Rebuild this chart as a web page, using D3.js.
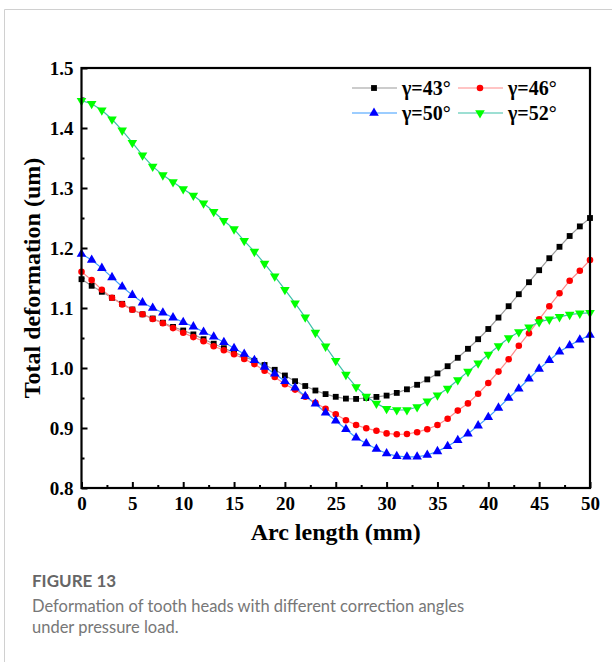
<!DOCTYPE html>
<html>
<head>
<meta charset="utf-8">
<script src="https://cdn.jsdelivr.net/npm/d3@7/dist/d3.min.js"></script>
<style>
  html, body { margin: 0; padding: 0; background: #fff; }
  svg { display: block; }
</style>
</head>
<body>
<script>
// ---------- data ----------
const arcLength = [0,1,2,3,4,5,6,7,8,9,10,11,12,13,14,15,16,17,18,19,20,21,22,23,24,25,26,27,28,29,30,31,32,33,34,35,36,37,38,39,40,41,42,43,44,45,46,47,48,49,50];
const gamma43 = [1.148,1.137,1.127,1.117,1.107,1.0975,1.0895,1.0825,1.0755,1.0685,1.0625,1.056,1.048,1.0405,1.033,1.026,1.019,1.012,1.005,0.997,0.9875,0.978,0.970,0.9625,0.9565,0.952,0.949,0.9485,0.950,0.9518,0.954,0.9585,0.9645,0.972,0.981,0.991,1.003,1.017,1.032,1.048,1.065,1.084,1.103,1.123,1.143,1.163,1.183,1.202,1.220,1.236,1.250];
const gamma46 = [1.1605,1.1465,1.1305,1.117,1.106,1.097,1.0895,1.0817,1.0745,1.0665,1.0588,1.0515,1.0445,1.0363,1.0297,1.0228,1.015,1.0065,0.9955,0.985,0.973,0.964,0.952,0.942,0.932,0.923,0.913,0.905,0.8995,0.8955,0.891,0.8895,0.890,0.893,0.898,0.905,0.9155,0.929,0.941,0.957,0.975,0.994,1.0145,1.037,1.058,1.081,1.103,1.1245,1.1455,1.162,1.18];
const gamma50 = [1.19,1.180,1.1665,1.151,1.1355,1.1215,1.109,1.1,1.092,1.084,1.0763,1.069,1.060,1.052,1.043,1.033,1.0233,1.013,1.0018,0.9905,0.978,0.967,0.953,0.9405,0.9255,0.912,0.898,0.8838,0.8742,0.865,0.8575,0.853,0.852,0.852,0.855,0.861,0.8695,0.8795,0.8905,0.904,0.918,0.9335,0.950,0.9655,0.982,0.9985,1.0128,1.027,1.0375,1.047,1.055];
const gamma52 = [1.4455,1.4405,1.4295,1.4145,1.396,1.3755,1.3545,1.336,1.3215,1.310,1.2985,1.2875,1.2745,1.2605,1.2455,1.2315,1.212,1.194,1.174,1.1528,1.1305,1.108,1.0845,1.059,1.036,1.012,0.989,0.9685,0.9525,0.941,0.932,0.930,0.930,0.935,0.9445,0.9545,0.966,0.980,0.994,1.008,1.0225,1.0368,1.050,1.060,1.068,1.0768,1.081,1.0852,1.089,1.091,1.092];
const seriesNames = ["γ=43°", "γ=46°", "γ=50°", "γ=52°"];
const xTickValues = [0,5,10,15,20,25,30,35,40,45,50];
const yTickValues = [0.8,0.9,1.0,1.1,1.2,1.3,1.4,1.5];
const xTitle = "Arc length (mm)";
const yTitle = "Total deformation (um)";
const captionTitle = "FIGURE 13";
const captionLines = ["Deformation of tooth heads with different correction angles", "under pressure load."];

// ---------- styles ----------
const styles = [
  { values: gamma43, line: "#9a9a9a", fill: "#000000", shape: d3.symbolSquare, size: 34, rot: 0 },
  { values: gamma46, line: "#ff8a8a", fill: "#ff0000", shape: d3.symbolCircle, size: 34, rot: 0 },
  { values: gamma50, line: "#3a9cff", fill: "#0000ff", shape: d3.symbolTriangle, size: 40, rot: 0 },
  { values: gamma52, line: "#3cc0a8", fill: "#00ff00", shape: d3.symbolTriangle, size: 40, rot: 180 }
];

const W = 612, H = 662;
const svg = d3.select("body").append("svg").attr("width", W).attr("height", H);

// card border
svg.append("path").attr("d", `M4.5,${H} V9.5 H${W}`).attr("fill", "none").attr("stroke", "#d0d0d0").attr("stroke-width", 1);

const L = 81.5, R = 590, T = 68, B = 488;
const x = d3.scaleLinear().domain([0, 50]).range([L, R]);
const y = d3.scaleLinear().domain([0.8, 1.5]).range([B, T]);

const font = "'Liberation Serif', 'Times New Roman', serif";

// axes (inward ticks)
const gx = svg.append("g").attr("transform", `translate(0,${B})`)
  .call(d3.axisBottom(x).tickValues(xTickValues).tickFormat(d3.format("d")).tickSizeInner(-6).tickSizeOuter(0).tickPadding(9));
const gxm = svg.append("g").attr("transform", `translate(0,${B})`)
  .call(d3.axisBottom(x).tickValues(d3.range(2.5, 50, 5)).tickFormat("").tickSizeInner(-3).tickSizeOuter(0));
const gy = svg.append("g").attr("transform", `translate(${L},0)`)
  .call(d3.axisLeft(y).tickValues(yTickValues).tickFormat(d3.format(".1f")).tickSizeInner(-6).tickSizeOuter(0).tickPadding(8));
const gym = svg.append("g").attr("transform", `translate(${L},0)`)
  .call(d3.axisLeft(y).tickValues(d3.range(0.85, 1.5, 0.1)).tickFormat("").tickSizeInner(-3).tickSizeOuter(0));
[gx, gxm, gy, gym].forEach(g => {
  g.select(".domain").remove();
  g.selectAll(".tick line").attr("stroke", "#000").attr("stroke-width", 2);
  g.selectAll("text").attr("font-family", font).attr("font-weight", "bold").attr("font-size", 19).attr("fill", "#000");
});
gx.selectAll("text").attr("dy", "0.71em");

// series
const lineGen = d3.line().x((d, i) => x(arcLength[i])).y(d => y(d));
styles.forEach(s => {
  svg.append("path").datum(s.values).attr("d", lineGen)
    .attr("fill", "none").attr("stroke", s.line).attr("stroke-width", 1.2);
});
styles.forEach(s => {
  svg.append("g").selectAll("path").data(s.values).join("path")
    .attr("d", d3.symbol().type(s.shape).size(s.size))
    .attr("transform", (d, i) => `translate(${x(arcLength[i])},${y(d)}) rotate(${s.rot})`)
    .attr("fill", s.fill);
});

// frame
svg.append("rect").attr("x", L).attr("y", T).attr("width", R - L).attr("height", B - T)
  .attr("fill", "none").attr("stroke", "#000").attr("stroke-width", 2.2);

// legend
const legendPos = [[352, 88], [458, 88], [352, 113], [458, 113]];
styles.forEach((s, i) => {
  const [lx, ly] = legendPos[i];
  const g = svg.append("g").attr("transform", `translate(${lx},${ly})`);
  g.append("line").attr("x1", 0).attr("x2", 45).attr("y1", 0).attr("y2", 0).attr("stroke", s.line).attr("stroke-width", 1.2);
  g.append("path").attr("d", d3.symbol().type(s.shape).size(s.size)).attr("transform", `translate(22,0) rotate(${s.rot})`).attr("fill", s.fill);
  g.append("text").attr("x", 50).attr("y", 0).attr("dy", "0.35em")
    .attr("font-family", font).attr("font-weight", "bold").attr("font-size", 20).text(seriesNames[i]);
});

// axis titles
svg.append("text").attr("x", (L + R) / 2).attr("y", 540).attr("text-anchor", "middle")
  .attr("font-family", font).attr("font-weight", "bold").attr("font-size", 24).text(xTitle);
svg.append("text").attr("transform", `translate(40,${(T + B) / 2}) rotate(-90)`).attr("text-anchor", "middle")
  .attr("font-family", font).attr("font-weight", "bold").attr("font-size", 24).text(yTitle);

// caption
svg.append("text").attr("x", 32).attr("y", 587).attr("font-family", "Lato, 'Open Sans', sans-serif")
  .attr("font-size", 17).attr("fill", "#666").attr("font-weight", "bold").text(captionTitle);
captionLines.forEach((t, i) => {
  svg.append("text").attr("x", 32).attr("y", 612 + i * 21).attr("font-family", "Lato, 'Open Sans', sans-serif")
    .attr("font-size", 16.5).attr("fill", "#777").text(t);
});
</script>
</body>
</html>
